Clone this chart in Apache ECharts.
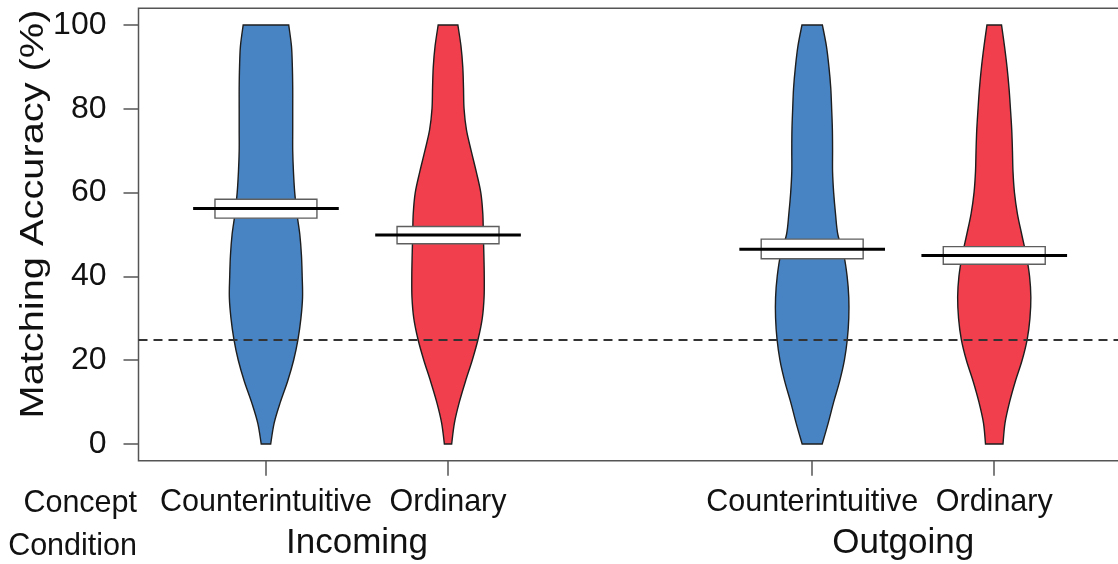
<!DOCTYPE html>
<html>
<head>
<meta charset="utf-8">
<script src="https://cdn.jsdelivr.net/npm/echarts@6/dist/echarts.min.js"></script>
<style>
  html, body { margin: 0; padding: 0; background: #fff; overflow: hidden; }
  #chart { width: 1118px; height: 564px; }
</style>
</head>
<body>
<div id="chart"></div>
<script>
// Accuracy levels (%) at which each violin's half-width is sampled
const levels = [0, 5, 10, 15, 20, 25, 30, 35, 40, 45, 50, 55, 60, 65, 70, 75, 80, 85, 90, 95, 100];

const conditions = ['Incoming', 'Outgoing'];
const concepts = ['Counterintuitive', 'Ordinary'];
const positions = [1, 2, 4, 5];
const groupCenters = [1.5, 4.5];
const yTicks = [0, 20, 40, 60, 80, 100];
const chanceLevel = 25;
const yTitle = 'Matching Accuracy (%)';

// Violin half-widths (x-axis units) at each level
const densityIncomingCounter = [0.026, 0.045, 0.079, 0.119, 0.152, 0.176, 0.192, 0.201, 0.199, 0.195, 0.186, 0.170, 0.158, 0.151, 0.147, 0.147, 0.147, 0.147, 0.145, 0.140, 0.125];
const densityIncomingOrdinary = [0.020, 0.035, 0.062, 0.096, 0.133, 0.165, 0.188, 0.198, 0.199, 0.197, 0.194, 0.191, 0.180, 0.155, 0.127, 0.101, 0.088, 0.085, 0.081, 0.071, 0.054];
const densityOutgoingCounter = [0.055, 0.088, 0.118, 0.151, 0.177, 0.193, 0.201, 0.201, 0.192, 0.174, 0.141, 0.128, 0.118, 0.112, 0.112, 0.111, 0.107, 0.102, 0.092, 0.078, 0.056];
const densityOutgoingOrdinary = [0.048, 0.059, 0.084, 0.116, 0.153, 0.181, 0.196, 0.201, 0.194, 0.176, 0.151, 0.127, 0.111, 0.103, 0.100, 0.096, 0.089, 0.081, 0.070, 0.056, 0.040];

// Group means and 95% confidence bounds (%)
const means = [56.2, 49.9, 46.5, 45.0];
const ciLower = [53.9, 47.8, 44.2, 42.9];
const ciUpper = [58.4, 51.9, 48.9, 47.1];

const densities = [densityIncomingCounter, densityIncomingOrdinary, densityOutgoingCounter, densityOutgoingOrdinary];
const BLUE = '#4884c4';
const RED = '#f13f4d';
const fillColors = [BLUE, RED, BLUE, RED];
const FONT = 'Liberation Sans, Arial, Helvetica, sans-serif';

const tickLabelByPos = {};
positions.forEach((p, i) => { tickLabelByPos[p] = concepts[i % 2]; });
const groupLabelByPos = {};
groupCenters.forEach((p, i) => { groupLabelByPos[p] = conditions[i]; });

// Smooth curve through pixel points (Catmull-Rom -> cubic Bezier)
function splineSegments(pts) {
  let d = '';
  for (let i = 0; i < pts.length - 1; i++) {
    const p0 = pts[Math.max(i - 1, 0)];
    const p1 = pts[i];
    const p2 = pts[i + 1];
    const p3 = pts[Math.min(i + 2, pts.length - 1)];
    const c1x = p1[0] + (p2[0] - p0[0]) / 6;
    const c1y = p1[1] + (p2[1] - p0[1]) / 6;
    const c2x = p2[0] - (p3[0] - p1[0]) / 6;
    const c2y = p2[1] - (p3[1] - p1[1]) / 6;
    d += ' C' + c1x + ' ' + c1y + ' ' + c2x + ' ' + c2y + ' ' + p2[0] + ' ' + p2[1];
  }
  return d;
}

function renderViolin(params, api) {
  const i = params.dataIndex;
  const x = api.value(0);
  const dens = densities[i];
  const left = levels.map((v, k) => api.coord([x - dens[k], v]));
  const right = levels.map((v, k) => api.coord([x + dens[k], v])).reverse();
  let d = 'M' + left[0][0] + ' ' + left[0][1];
  d += splineSegments(left);
  d += ' L' + right[0][0] + ' ' + right[0][1];
  d += splineSegments(right);
  d += ' Z';
  return {
    type: 'path',
    shape: { pathData: d },
    style: { fill: fillColors[i], stroke: '#1e1e1e', lineWidth: 1.4 }
  };
}

function renderMean(params, api) {
  const x = api.value(0);
  const m = api.value(1);
  const lo = api.value(2);
  const hi = api.value(3);
  const boxHalf = 0.28;
  const lineHalf = 0.40;
  const tl = api.coord([x - boxHalf, hi]);
  const br = api.coord([x + boxHalf, lo]);
  const l1 = api.coord([x - lineHalf, m]);
  const l2 = api.coord([x + lineHalf, m]);
  return {
    type: 'group',
    children: [
      {
        type: 'rect',
        shape: { x: tl[0], y: tl[1], width: br[0] - tl[0], height: br[1] - tl[1] },
        style: { fill: '#ffffff', stroke: '#5e5e5e', lineWidth: 1.4 }
      },
      {
        type: 'line',
        shape: { x1: l1[0], y1: l1[1], x2: l2[0], y2: l2[1] },
        style: { stroke: '#000', lineWidth: 3 }
      }
    ]
  };
}

const chart = echarts.init(document.getElementById('chart'), null, { renderer: 'canvas' });

const axisLineStyle = { color: '#555', width: 1.5 };

chart.setOption({
  animation: false,
  backgroundColor: '#fff',
  textStyle: { fontFamily: FONT },
  grid: {
    left: 138.5, top: 8.2, right: -3.7, bottom: 103.2,
    outerBoundsMode: 'none',
    containLabel: false,
    show: true, borderColor: '#555', borderWidth: 1.5, backgroundColor: 'transparent'
  },
  xAxis: [
    {
      type: 'value', min: 0.3, max: 5.7, position: 'bottom',
      axisLine: { show: false, onZero: false },
      splitLine: { show: false },
      axisTick: { show: true, customValues: positions, length: 15, inside: false, lineStyle: axisLineStyle },
      axisLabel: {
        show: true, customValues: positions, margin: 26.5,
        fontSize: 30.5, color: '#111', fontFamily: FONT,
        formatter: v => tickLabelByPos[v] || ''
      }
    },
    {
      type: 'value', min: 0.3, max: 5.7, position: 'bottom',
      axisLine: { show: false, onZero: false },
      splitLine: { show: false },
      axisTick: { show: false },
      axisLabel: {
        show: true, customValues: groupCenters, margin: 65.5,
        fontSize: 35, color: '#111', fontFamily: FONT,
        formatter: v => groupLabelByPos[v] || ''
      }
    }
  ],
  yAxis: {
    type: 'value', min: -4, max: 104,
    axisLine: { show: false, onZero: false },
    splitLine: { show: false },
    axisTick: { show: true, customValues: yTicks, length: 15, lineStyle: axisLineStyle },
    axisLabel: { show: true, customValues: yTicks, margin: 32, fontSize: 32, color: '#111', fontFamily: FONT }
  },
  graphic: [
    {
      type: 'text', x: 34, y: 214, rotation: Math.PI / 2, scaleX: 1.17, scaleY: 1,
      style: { text: yTitle, font: '34px ' + FONT, fill: '#111', align: 'center', verticalAlign: 'middle' }
    },
    {
      type: 'text', right: 1118 - 137, top: 488,
      style: { text: 'Concept', font: '30.5px ' + FONT, fill: '#111', align: 'right' }
    },
    {
      type: 'text', right: 1118 - 137, top: 531,
      style: { text: 'Condition', font: '30.5px ' + FONT, fill: '#111', align: 'right' }
    }
  ],
  series: [
    {
      type: 'custom',
      name: 'violins',
      xAxisIndex: 0,
      renderItem: renderViolin,
      data: positions.map((p, i) => [p, i]),
      z: 2,
      markLine: {
        silent: true,
        symbol: 'none',
        label: { show: false },
        lineStyle: { color: '#333', width: 1.8, type: [9, 6] },
        data: [{ yAxis: chanceLevel }]
      }
    },
    {
      type: 'custom',
      name: 'means',
      xAxisIndex: 0,
      renderItem: renderMean,
      data: positions.map((p, i) => [p, means[i], ciLower[i], ciUpper[i]]),
      z: 6
    }
  ]
});
</script>
</body>
</html>
